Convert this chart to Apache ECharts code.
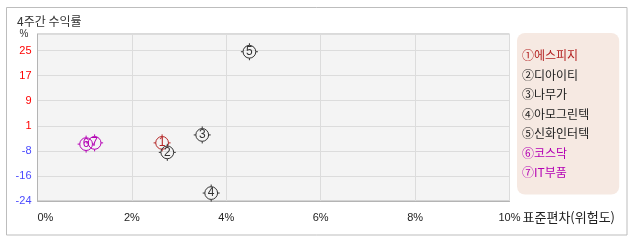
<!DOCTYPE html>
<html><head><meta charset="utf-8">
<script src="https://cdn.jsdelivr.net/npm/echarts@6/dist/echarts.min.js"></script>
<style>html,body{margin:0;padding:0;background:#fff}#c{width:638px;height:242px}</style>
</head><body><div id="c"></div>
<script>
// ---- data ----
const names = ['에스피지','디아이티','나무가','아모그린텍','신화인터텍','코스닥','IT부품'];
const marks = ['1','2','3','4','5','6','7'];
const circled = ['①','②','③','④','⑤','⑥','⑦'];
const risk = [2.64, 2.75, 3.49, 3.68, 4.49, 1.03, 1.21];   // 표준편차(위험도) %
const ret  = [-5.0, -8.1, -2.4, -21.4, 24.8, -5.4, -5.0]; // 4주간 수익률 %
const xTicks = [0, 2, 4, 6, 8, 10];
const yTickLabels = [-24, -16, -8, 1, 9, 17, 25];
const xAxisTitle = '표준편차(위험도)';

// ---- style ----
const colors = ['#b42323','#333333','#333333','#333333','#333333','#b400b4','#b400b4'];
const legendColors = ['#b42323','#222222','#222222','#222222','#222222','#b400b4','#b400b4'];
const F = '"Noto Sans CJK KR", "Liberation Sans", sans-serif';
const N = '"Liberation Sans Narrow", "Liberation Sans", sans-serif';
const markerPath = 'path://M8,2A6,6,0,1,1,7.99,2Z M8,0L8,2 M8,14L8,16 M0,8L2,8 M14,8L16,8';

const chart = echarts.init(document.getElementById('c'), null, {renderer:'canvas'});
const yMin = -24, yStep = 8.2, yMax = 30.6;

const series = names.map((n, i) => ({
  type: 'scatter',
  name: n,
  data: [[risk[i], ret[i]]],
  symbol: markerPath,
  symbolSize: 17,
  itemStyle: { color: 'none', borderColor: colors[i], borderWidth: 1, opacity: 1 },
  label: {
    show: true, position: 'inside', formatter: marks[i],
    color: colors[i], fontSize: 12, fontFamily: '"Liberation Sans", sans-serif'
  },
  emphasis: { disabled: true },
  z: 3
}));

chart.setOption({
  animation: false,
  backgroundColor: '#fff',
  title: {
    text: '4주간 수익률', left: 12, top: 10,
    textStyle: { fontSize: 12, fontWeight: 'normal', color: '#333', fontFamily: F }
  },
  grid: {
    left: 37.5, right: 128.5, top: 34, bottom: 41,
    show: true, backgroundColor: '#f4f4f4', borderColor: '#b4b4b4', borderWidth: 1
  },
  xAxis: {
    type: 'value', min: xTicks[0], max: xTicks[xTicks.length - 1], interval: 2,
    axisLine: { show: true, onZero: false, lineStyle: { color: '#b4b4b4' } },
    axisTick: { show: false },
    splitLine: { show: true, lineStyle: { color: '#dcdcdc' } },
    axisLabel: {
      margin: 11, fontSize: 11, color: '#222', fontFamily: N,
      alignMinLabel: 'left',
      formatter: v => v + '%'
    }
  },
  yAxis: {
    type: 'value', min: yMin, max: yMax, interval: yStep,
    name: '%', nameLocation: 'end', nameGap: -5,
    nameTextStyle: { fontSize: 10, color: '#333', align: 'right', padding: [0, 9, 0, 0], fontFamily: N },
    axisLine: { show: true, lineStyle: { color: '#b4b4b4' } },
    axisTick: { show: false },
    splitLine: { show: true, lineStyle: { color: '#dcdcdc' } },
    axisLabel: {
      margin: 6, fontSize: 11, fontFamily: '"Liberation Sans", sans-serif',
      formatter: v => {
        const k = Math.round((v - yMin) / yStep);
        if (Math.abs(v - (yMin + k * yStep)) > 0.01 || k >= yTickLabels.length) return '';
        const t = yTickLabels[k];
        return t < 0 ? '{n|' + t + '}' : '{p|' + t + '}';
      },
      rich: {
        n: { color: '#4a4aff', fontSize: 11, fontFamily: '"Liberation Sans", sans-serif' },
        p: { color: '#ff0000', fontSize: 11, fontFamily: '"Liberation Sans", sans-serif' }
      }
    }
  },
  legend: {
    orient: 'vertical', left: 517, top: 33,
    backgroundColor: '#f6e9e2', borderRadius: 8,
    padding: [16, 30, 16, 0],
    itemWidth: 0, itemHeight: 13, itemGap: 7, icon: 'none',
    selectedMode: false,
    data: names.map((n, i) => ({ name: n, textStyle: { color: legendColors[i] } })),
    formatter: n => circled[names.indexOf(n)] + n,
    textStyle: { fontSize: 12, fontFamily: F, color: '#222' }
  },
  series: series
});

// axis title placed just after the last x tick label, computed through the axis scale
const endPx = chart.convertToPixel({ xAxisIndex: 0 }, xTicks[xTicks.length - 1]);
const baseY = chart.convertToPixel({ yAxisIndex: 0 }, yMin);
chart.setOption({
  graphic: [{
    type: 'rect', shape: { x: 6.5, y: 7.5, width: 620.5, height: 227.5 },
    style: { fill: 'none', stroke: '#bdbdbd', lineWidth: 1 }, z: -1
  }, {
    type: 'text', x: endPx + 13, y: baseY + 16,
    style: { text: xAxisTitle, fontSize: 13, fontFamily: F, fill: '#222', verticalAlign: 'middle', align: 'left' }
  }]
});
</script></body></html>
